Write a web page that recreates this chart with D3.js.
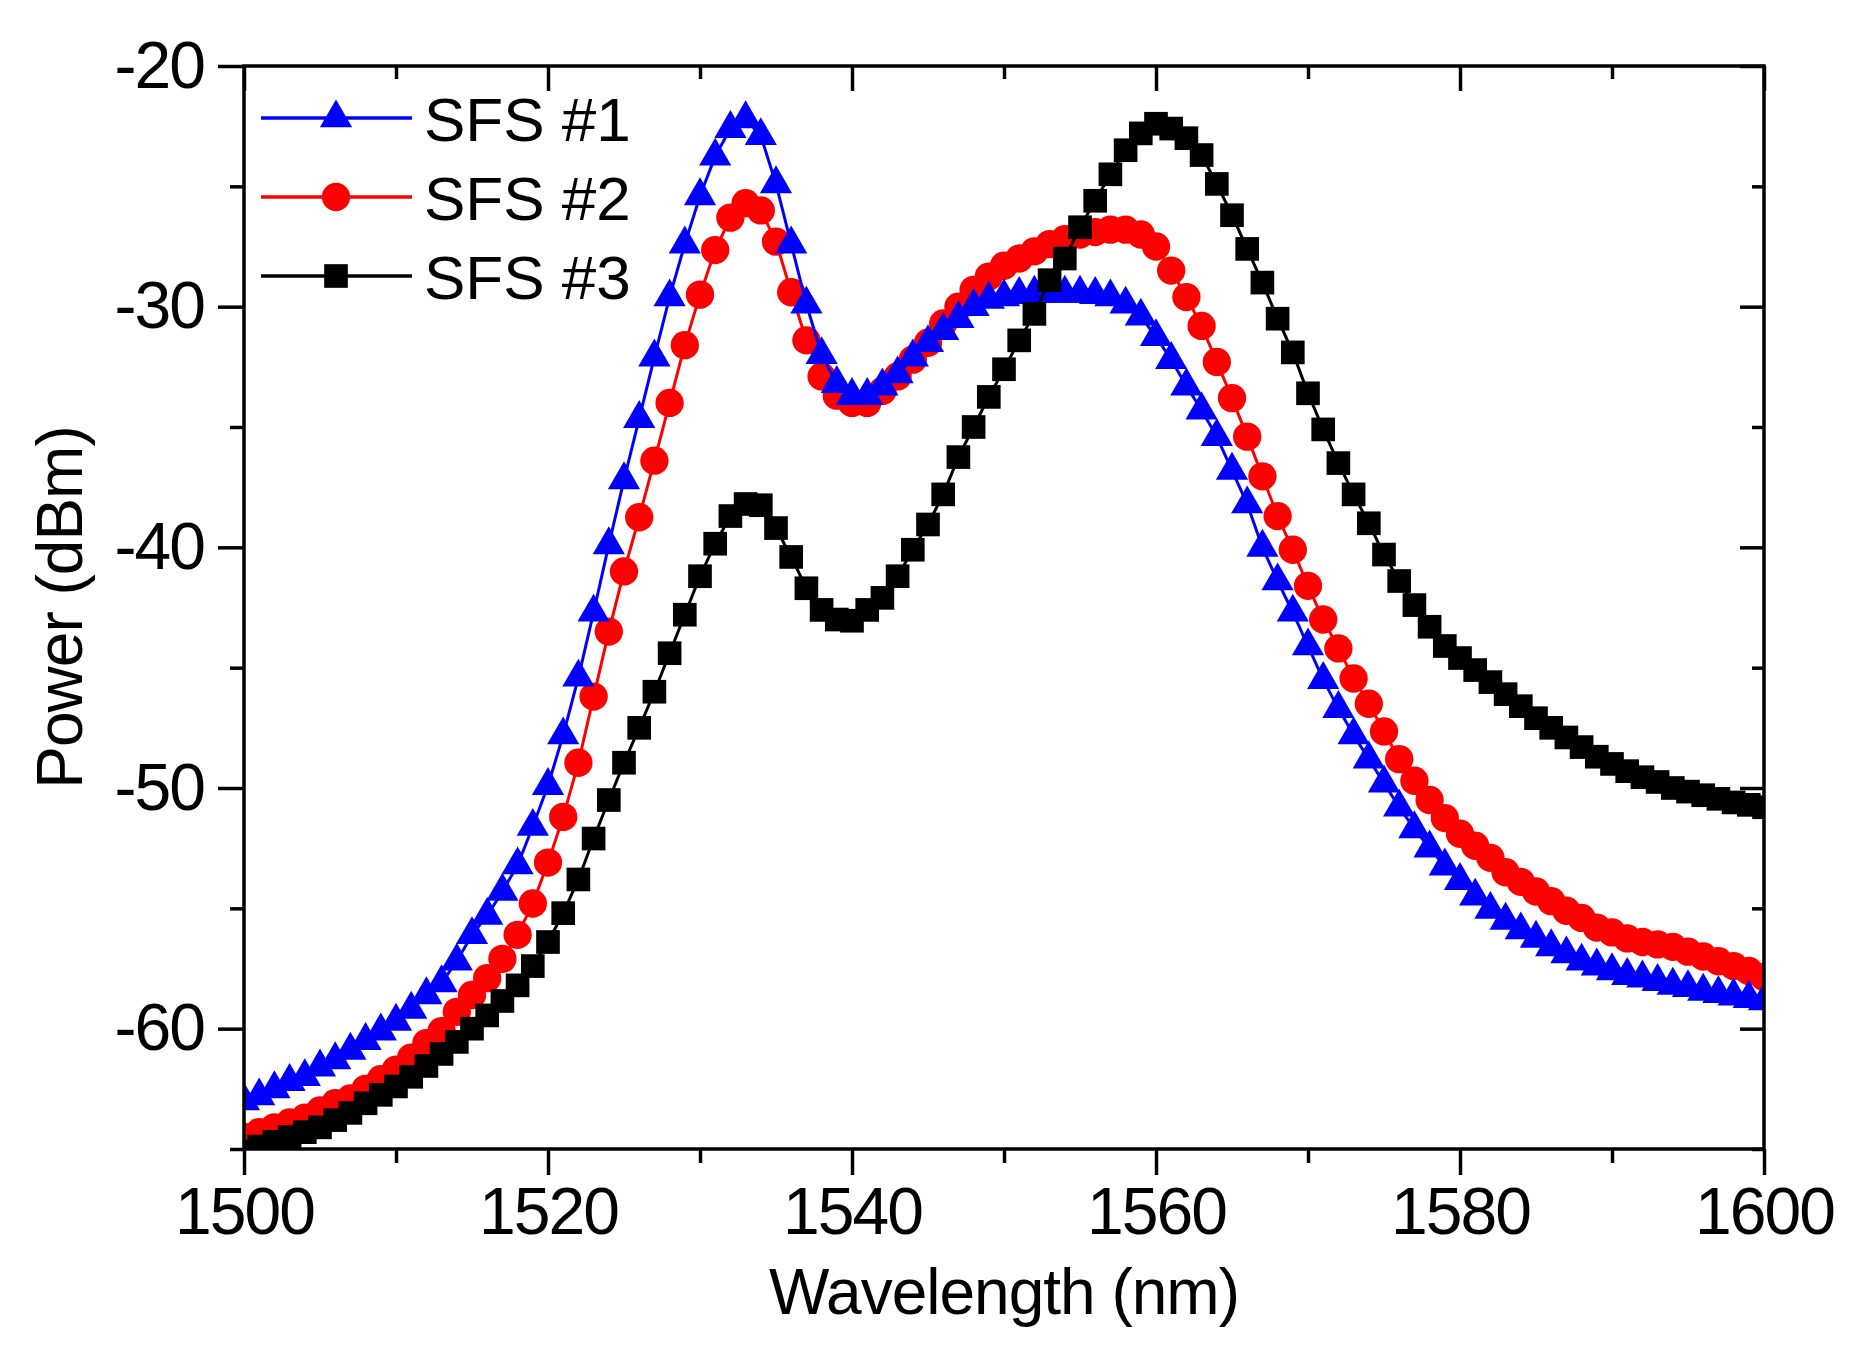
<!DOCTYPE html>
<html>
<head>
<meta charset="utf-8">
<script src="https://cdn.jsdelivr.net/npm/d3@7"></script>
<style>
  body { margin: 0; background: #fff; }
  svg { display: block; }
  text { font-family: "Liberation Sans", Arial, sans-serif; fill: #000; }
</style>
</head>
<body>
<div id="chart"></div>
<script>
// chart size and plot box
const width = 1864;
const height = 1356;
const margin = {left: 244, right: 100, top: 66, bottom: 207};

// wavelength grid (nm), one sample per nm
const wavelength = d3.range(1500, 1601, 1);

// SFS #1 (blue triangles), dBm
const sfs1 = [
  -63.0, -62.8, -62.5, -62.2, -62.0, -61.6, -61.3, -60.9, -60.5, -60.1,
  -59.7, -59.2, -58.6, -58.1, -57.2, -56.1, -55.3, -54.3, -53.2, -51.6,
  -49.9, -47.8, -45.4, -42.7, -39.9, -37.2, -34.65, -32.1, -29.6, -27.4,
  -25.4, -23.75, -22.6, -22.2, -22.9, -24.9, -27.4, -29.9, -32.0, -33.2,
  -33.7, -33.7, -33.3, -32.8, -32.1, -31.5, -31.0, -30.5, -30.0, -29.7,
  -29.6, -29.5, -29.45, -29.45, -29.45, -29.45, -29.5, -29.6, -29.9, -30.4,
  -31.25, -32.2, -33.3, -34.3, -35.4, -36.8, -38.2, -40.0, -41.4, -42.7,
  -44.1, -45.5, -46.7, -47.8, -48.8, -49.8, -50.8, -51.7, -52.5, -53.25,
  -53.85, -54.5, -55.05, -55.5, -55.9, -56.25, -56.6, -56.9, -57.2, -57.4,
  -57.6, -57.8, -57.9, -58.05, -58.2, -58.3, -58.45, -58.55, -58.65, -58.75,
  -58.85
];

// SFS #2 (red circles), dBm
const sfs2 = [
  -64.5, -64.3, -64.1, -63.9, -63.7, -63.4, -63.1, -62.9, -62.5, -62.1,
  -61.7, -61.2, -60.6, -60.1, -59.3, -58.6, -57.9, -57.1, -56.1, -54.8,
  -53.1, -51.2, -48.95, -46.2, -43.5, -41.0, -38.75, -36.4, -34.0, -31.6,
  -29.5, -27.65, -26.3, -25.7, -26.0, -27.3, -29.4, -31.4, -32.9, -33.7,
  -34.0, -34.0, -33.5, -32.9, -32.2, -31.5, -30.7, -30.0, -29.3, -28.75,
  -28.3, -28.0, -27.7, -27.4, -27.2, -27.0, -26.9, -26.8, -26.8, -27.0,
  -27.5, -28.5, -29.6, -30.8, -32.3, -33.8, -35.4, -37.05, -38.7, -40.1,
  -41.6, -43.0, -44.2, -45.45, -46.5, -47.65, -48.8, -49.7, -50.5, -51.25,
  -51.9, -52.4, -52.9, -53.5, -53.9, -54.3, -54.7, -55.1, -55.4, -55.8,
  -56.0, -56.25, -56.4, -56.5, -56.6, -56.8, -57.0, -57.2, -57.4, -57.6,
  -57.85
];

// SFS #3 (black squares), dBm
const sfs3 = [
  -65.1, -64.9, -64.7, -64.5, -64.3, -64.1, -63.8, -63.5, -63.1, -62.75,
  -62.4, -62.0, -61.55, -61.05, -60.55, -60.0, -59.45, -58.85, -58.2, -57.4,
  -56.4, -55.2, -53.8, -52.1, -50.5, -48.95, -47.5, -46.0, -44.4, -42.8,
  -41.2, -39.85, -38.7, -38.2, -38.25, -39.2, -40.4, -41.7, -42.6, -43.0,
  -43.05, -42.6, -42.1, -41.2, -40.1, -39.05, -37.8, -36.25, -35.0, -33.75,
  -32.6, -31.4, -30.3, -28.9, -28.0, -26.7, -25.6, -24.5, -23.5, -22.8,
  -22.4, -22.6, -23.0, -23.7, -24.9, -26.2, -27.6, -29.0, -30.5, -31.9,
  -33.6, -35.1, -36.5, -37.8, -39.0, -40.3, -41.4, -42.4, -43.3, -44.1,
  -44.6, -45.1, -45.6, -46.1, -46.6, -47.1, -47.5, -47.9, -48.3, -48.7,
  -49.0, -49.3, -49.55, -49.75, -50.0, -50.15, -50.3, -50.45, -50.6, -50.7,
  -50.8
];

const seriesNames = ["SFS #1", "SFS #2", "SFS #3"];
const xMajorTicks = [1500, 1520, 1540, 1560, 1580, 1600];
const xMinorTicks = [1510, 1530, 1550, 1570, 1590];
const yMajorTicks = [-20, -30, -40, -50, -60];
const yMinorTicks = [-25, -35, -45, -55, -65];

// marker look for each series
const styles = [
  {color: "#0000ff", symbol: d3.symbolTriangle, size: 450},
  {color: "#ff0000", symbol: d3.symbolCircle, size: 630},
  {color: "#000000", symbol: d3.symbolSquare, size: 560}
];

const svg = d3.select("#chart")
  .append("svg")
  .attr("width", width)
  .attr("height", height)
  .attr("viewBox", [0, 0, width, height]);

svg.append("rect").attr("width", width).attr("height", height).attr("fill", "#fff");

const x = d3.scaleLinear()
  .domain([1500, 1600])
  .range([margin.left, width - margin.right]);

const y = d3.scaleLinear()
  .domain([-65, -20])
  .range([height - margin.bottom, margin.top]);

// clip to plot box so edge markers are cut like the original
svg.append("clipPath").attr("id", "plotclip")
  .append("rect")
  .attr("x", margin.left)
  .attr("y", margin.top)
  .attr("width", x(1600) - x(1500))
  .attr("height", y(-65) - y(-20));

const plot = svg.append("g").attr("clip-path", "url(#plotclip)");

const line = d3.line()
  .x((d, i) => x(wavelength[i]))
  .y(d => y(d));

const allSeries = [sfs1, sfs2, sfs3];
// draw order: red, blue, black on top
[1, 0, 2].forEach(k => {
  const g = plot.append("g");
  g.append("path")
    .datum(allSeries[k])
    .attr("fill", "none")
    .attr("stroke", styles[k].color)
    .attr("stroke-width", 3)
    .attr("d", line);
  g.selectAll("path.mark")
    .data(allSeries[k])
    .enter()
    .append("path")
    .attr("class", "mark")
    .attr("transform", (d, i) => `translate(${x(wavelength[i])},${y(d)})`)
    .attr("d", d3.symbol().type(styles[k].symbol).size(styles[k].size))
    .attr("fill", styles[k].color);
});

/*
  Axes
*/
const fmt = d => String(d);
const axisStroke = 3.5;

function styleAxis(g) {
  g.select(".domain").remove();
  g.selectAll("line").attr("stroke", "#000").attr("stroke-width", axisStroke);
  g.selectAll("text")
    .attr("font-size", "66px")
    .attr("letter-spacing", "-2px")
    .attr("font-family", "'Liberation Sans', Arial, sans-serif");
}

// bottom: ticks outward
svg.append("g")
  .attr("transform", `translate(0,${y(-65)})`)
  .call(d3.axisBottom(x).tickValues(xMajorTicks).tickFormat(fmt).tickSize(26).tickPadding(12))
  .call(styleAxis);
svg.append("g")
  .attr("transform", `translate(0,${y(-65)})`)
  .call(d3.axisBottom(x).tickValues(xMinorTicks).tickFormat("").tickSize(14))
  .call(styleAxis);

// top: ticks inward
svg.append("g")
  .attr("transform", `translate(0,${y(-20)})`)
  .call(d3.axisBottom(x).tickValues(xMajorTicks).tickFormat("").tickSize(25))
  .call(styleAxis);
svg.append("g")
  .attr("transform", `translate(0,${y(-20)})`)
  .call(d3.axisBottom(x).tickValues(xMinorTicks).tickFormat("").tickSize(13))
  .call(styleAxis);

// left: ticks outward
svg.append("g")
  .attr("transform", `translate(${x(1500)},0)`)
  .call(d3.axisLeft(y).tickValues(yMajorTicks).tickFormat(fmt).tickSize(26).tickPadding(14))
  .call(styleAxis);
svg.append("g")
  .attr("transform", `translate(${x(1500)},0)`)
  .call(d3.axisLeft(y).tickValues(yMinorTicks).tickFormat("").tickSize(14))
  .call(styleAxis);

// right: ticks inward
svg.append("g")
  .attr("transform", `translate(${x(1600)},0)`)
  .call(d3.axisLeft(y).tickValues(yMajorTicks).tickFormat("").tickSize(24))
  .call(styleAxis);
svg.append("g")
  .attr("transform", `translate(${x(1600)},0)`)
  .call(d3.axisLeft(y).tickValues(yMinorTicks).tickFormat("").tickSize(12))
  .call(styleAxis);

// frame
svg.append("rect")
  .attr("x", x(1500))
  .attr("y", y(-20))
  .attr("width", x(1600) - x(1500))
  .attr("height", y(-65) - y(-20))
  .attr("fill", "none")
  .attr("stroke", "#000")
  .attr("stroke-width", axisStroke);

// axis titles
svg.append("text")
  .attr("x", (x(1500) + x(1600)) / 2)
  .attr("y", 1314)
  .attr("text-anchor", "middle")
  .attr("font-size", "64px")
  .attr("letter-spacing", "-1px")
  .text("Wavelength (nm)");

svg.append("text")
  .attr("transform", `translate(82,${(y(-20) + y(-65)) / 2}) rotate(-90)`)
  .attr("text-anchor", "middle")
  .attr("font-size", "64px")
  .attr("letter-spacing", "-1px")
  .text("Power (dBm)");

/*
  Legend
*/
const legendRows = [118, 197, 276];
const legend = svg.append("g");
seriesNames.forEach((name, k) => {
  const ly = legendRows[k];
  legend.append("line")
    .attr("x1", 261).attr("x2", 412)
    .attr("y1", ly).attr("y2", ly)
    .attr("stroke", styles[k].color)
    .attr("stroke-width", 3.5);
  legend.append("path")
    .attr("transform", `translate(336,${ly})`)
    .attr("d", d3.symbol().type(styles[k].symbol).size(styles[k].size))
    .attr("fill", styles[k].color);
  legend.append("text")
    .attr("x", 424)
    .attr("y", ly + 23)
    .attr("font-size", "62px")
    .text(name);
});
</script>
</body>
</html>
